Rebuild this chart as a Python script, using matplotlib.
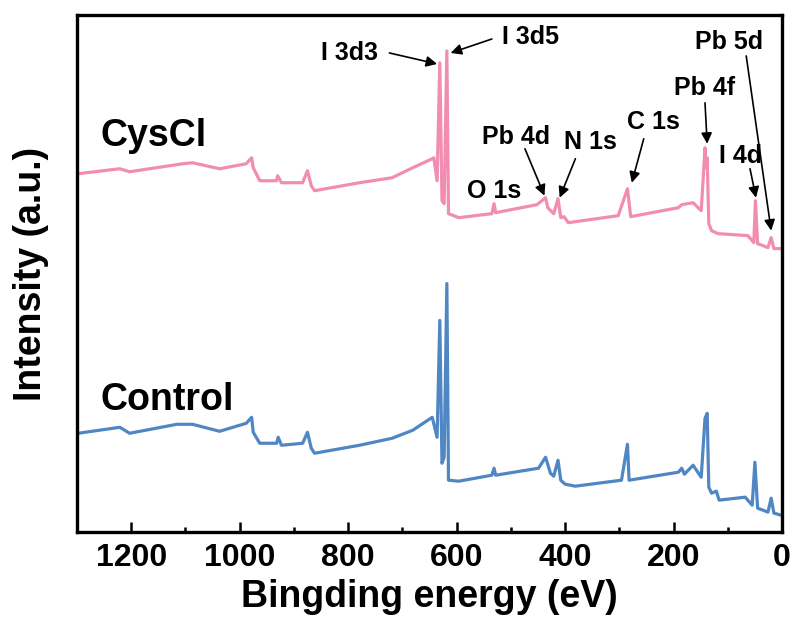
import matplotlib
matplotlib.use("Agg")
import matplotlib.pyplot as plt
from matplotlib.ticker import MultipleLocator

plt.rcParams["font.family"] = ["Liberation Sans", "DejaVu Sans"]
plt.rcParams["font.weight"] = "bold"

# XPS survey spectra (binding energy in eV, intensity in a.u.)
cys_energy = [1298, 1221, 1203, 1105, 1087, 1037, 988, 978, 975, 963, 932, 930, 923,
              884, 875, 868, 862, 779, 719, 681, 645, 642, 636, 631, 627, 623, 618,
              615, 596, 535, 531, 528, 452, 436, 432, 421, 413, 408, 402, 394, 302,
              285, 279, 191, 185, 164, 149, 142, 140, 138, 135, 130, 118, 63, 52, 49,
              45, 26, 20, 15, 2]
cys_counts = [359, 364, 361, 369, 370, 364, 369, 375, 365, 352, 352, 357, 350,
              350, 362, 347, 342, 350, 355, 365, 374, 375, 352, 470, 332, 329, 482,
              319, 315, 319, 329, 320, 328, 335, 325, 319, 334, 315, 316, 310, 317,
              344, 316, 325, 328, 330, 322, 385, 365, 375, 309, 302, 299, 297, 290, 332,
              289, 285, 295, 284, 284]

ctrl_energy = [1298, 1221, 1203, 1116, 1087, 1037, 988, 978, 975, 963, 932, 929, 923,
               884, 875, 868, 862, 779, 719, 681, 645, 636, 631, 627, 623, 618, 615,
               596, 535, 531, 528, 449, 436, 427, 421, 413, 408, 400, 381, 296, 285,
               282, 191, 185, 180, 164, 149, 142, 138, 135, 130, 121, 116, 68, 55, 50,
               45, 26, 20, 15, 2]
ctrl_counts = [99, 105, 99, 108, 108, 101, 109, 115, 100, 89, 89, 95, 87,
               89, 100, 84, 79, 87, 94, 102, 115, 95, 212, 69, 75, 249, 52,
               51, 57, 64, 57, 64, 75, 59, 56, 72, 52, 48, 46, 52, 88,
               52, 60, 64, 58, 67, 55, 114, 119, 45, 39, 41, 32, 35, 27, 70,
               24, 20, 34, 19, 17]

# peak labels: text, text position, arrow tail, arrow head
peak_labels = ["I 3d3", "I 3d5", "Pb 5d", "Pb 4f", "C 1s", "I 4d", "Pb 4d", "N 1s", "O 1s"]
label_pos = [(798, 480), (463, 496), (97, 491), (143, 445), (237, 411),
             (77, 377), (491, 396), (353, 391), (531, 342)]
arrow_tail = [(724, 480), (535, 494), (66, 477), (142, 430), (255, 394),
              (59, 364), (474, 384), (381, 374), None]
arrow_head = [(636, 469), (611, 480), (20, 302), (138, 389), (277, 350),
              (48, 335), (438, 337), (410, 335), None]

fig = plt.figure(figsize=(7.97, 6.26), dpi=100)
ax = fig.add_axes([0.0966, 0.150, 0.8846, 0.8260])

ax.plot(cys_energy, cys_counts, color="#F28DB2", lw=2.3)
ax.plot(ctrl_energy, ctrl_counts, color="#4F86C4", lw=2.3)

ax.set_xlim(1300, 0)
ax.set_ylim(0, 518)

ax.text(1257, 397, "CysCl", fontsize=27, ha="left", va="center")
ax.text(1257, 132, "Control", fontsize=27, ha="left", va="center")

for txt, pos, tail, head in zip(peak_labels, label_pos, arrow_tail, arrow_head):
    ax.text(pos[0], pos[1], txt, fontsize=18, ha="center", va="center")
    if tail is not None:
        ax.annotate("", xy=head, xytext=tail,
                    arrowprops=dict(arrowstyle="-|>", color="black", lw=1.2,
                                    mutation_scale=16, shrinkA=0, shrinkB=0))

ax.xaxis.set_major_locator(MultipleLocator(200))
ax.xaxis.set_minor_locator(MultipleLocator(100))
ax.set_yticks([])
ax.tick_params(axis="x", which="major", direction="in", length=7.5, width=1.8,
               labelsize=23, pad=8)
ax.tick_params(axis="x", which="minor", direction="in", length=3.5, width=1.8)
for s in ax.spines.values():
    s.set_linewidth(2.4)
    s.set_color("black")

ax.set_xlabel("Bingding energy (eV)", fontsize=27, fontweight="bold", labelpad=4)
ax.set_ylabel("Intensity (a.u.)", fontsize=27, fontweight="bold", labelpad=20)

fig.savefig("out.png", dpi=100)
